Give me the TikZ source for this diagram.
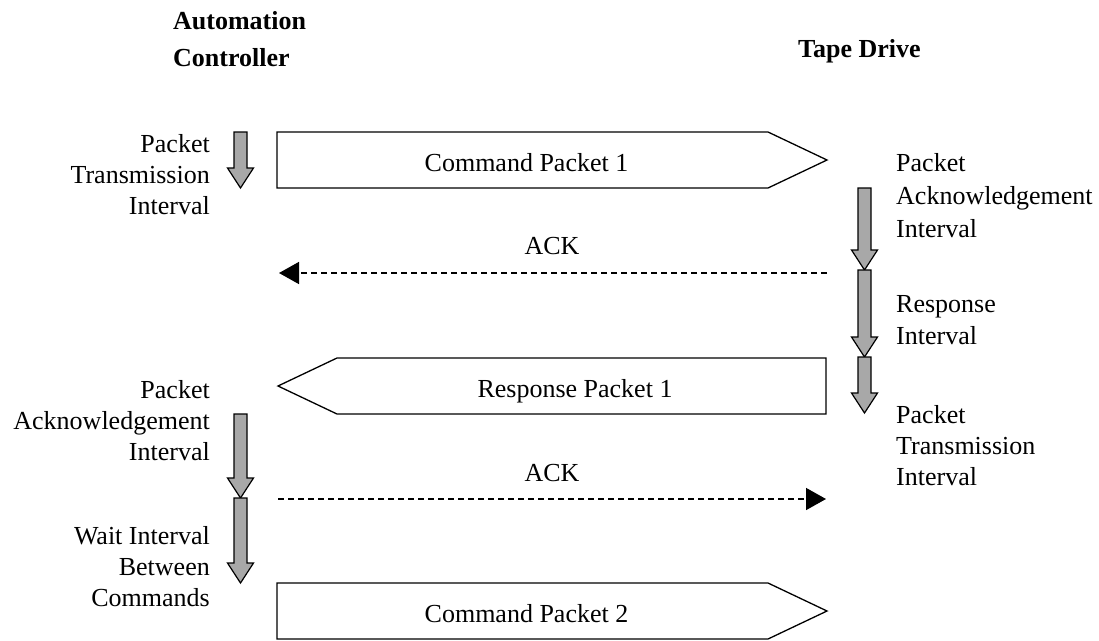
\documentclass[tikz,border=0pt]{standalone}
\usepackage{fontspec}
\setmainfont{Liberation Serif}
\usetikzlibrary{arrows.meta}
\definecolor{blockgray}{RGB}{168,168,168}
\begin{document}
\begin{tikzpicture}[x=1pt,y=-1pt,
  txt/.style={inner sep=0pt,font=\fontsize{26}{31}\selectfont},
  head/.style={inner sep=0pt,font=\fontsize{26}{37}\selectfont\bfseries},
  packet/.style={draw=black,line width=1.3pt,fill=white,line join=miter},
  interval/.style={draw=black,line width=1.2pt,fill=blockgray,line join=miter},
  ack/.style={line width=1.5pt,dash pattern=on 6pt off 4pt,
    -{Triangle[length=20pt,width=22pt]}}]
\useasboundingbox (0,0) rectangle (1099,640);

% column headings
\node[head,align=left,anchor=west] (ctrl) at (173,39.5) {Automation\\Controller};
\node[head,anchor=base west] (drive) at (798,57) {Tape Drive};

% packets (pentagon outlines)
\draw[packet] (277,132) -- (768,132) -- (827,160) -- (768,188) -- (277,188) -- cycle;
\node[txt,anchor=base] (cmd1) at (526.5,171) {Command Packet 1};

\draw[packet] (826,358) -- (337,358) -- (278,386) -- (337,414) -- (826,414) -- cycle;
\node[txt,anchor=base] (rsp1) at (575,397) {Response Packet 1};

\draw[packet] (277,583) -- (768,583) -- (827,611) -- (768,639) -- (277,639) -- cycle;
\node[txt,anchor=base] (cmd2) at (526.5,622) {Command Packet 2};

% interval block arrows: \blockarrow{x centre}{top}{tip}
\newcommand{\blockarrow}[3]{%
  \draw[interval] (#1-6.5,#2) -- (#1+6.5,#2) -- (#1+6.5,#3-20) -- (#1+13,#3-20)
    -- (#1,#3) -- (#1-13,#3-20) -- (#1-6.5,#3-20) -- cycle;}
\blockarrow{240.5}{132}{188}
\blockarrow{240.5}{414}{498}
\blockarrow{240.5}{498}{583}
\blockarrow{864.5}{188}{270}
\blockarrow{864.5}{270}{357}
\blockarrow{864.5}{357}{413}

% interval labels
\node[txt,align=right,anchor=east] (ltx) at (210,175) {Packet\\Transmission\\Interval};
\node[txt,align=right,anchor=east] (lack) at (210,421) {Packet\\Acknowledgement\\Interval};
\node[txt,align=right,anchor=east] (lwait) at (210,567) {Wait Interval\\Between\\Commands};
\node[txt,align=left,anchor=west,font=\fontsize{26}{33}\selectfont] (rack) at (896,196) {Packet\\Acknowledgement\\Interval};
\node[txt,align=left,anchor=west,font=\fontsize{26}{32}\selectfont] (rresp) at (896,320) {Response\\Interval};
\node[txt,align=left,anchor=west] (rtx) at (896,446) {Packet\\Transmission\\Interval};

% acknowledgements
\coordinate (ackAfrom) at (827,273);
\coordinate (ackAto) at (279,273);
\coordinate (ackBfrom) at (278,499);
\coordinate (ackBto) at (826,499);
\draw[ack] (ackAfrom) -- (ackAto);
\draw[ack] (ackBfrom) -- (ackBto);
\node[txt,anchor=base] (ackA) at (552,254) {ACK};
\node[txt,anchor=base] (ackB) at (552,481) {ACK};
\end{tikzpicture}
\end{document}
